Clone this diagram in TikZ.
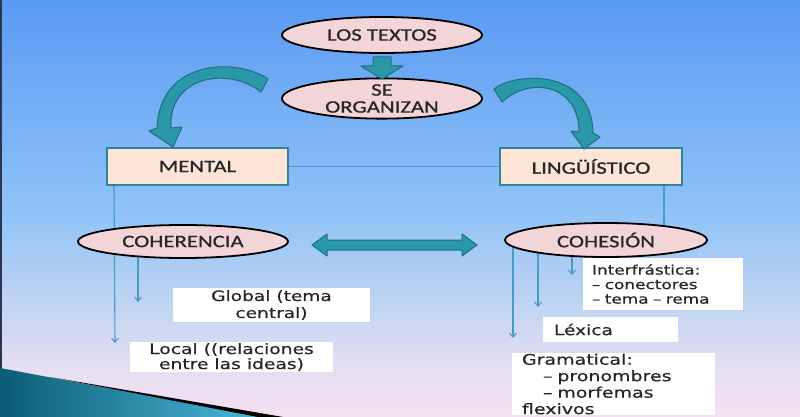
\documentclass[tikz,border=0pt]{standalone}
\usepackage{fontspec}
\usetikzlibrary{arrows.meta,shapes.geometric,calc}
\newfontfamily\crl[FakeStretch=1.3,FakeBold=0.9]{Carlito}
\newfontfamily\dvs[FakeStretch=1.3,FakeBold=0.5]{DejaVu Sans}
\definecolor{bgtop}{HTML}{5A9AF3}
\definecolor{bgmid}{HTML}{8EC2F7}
\definecolor{bglow}{HTML}{C4D6F1}
\definecolor{bglav}{HTML}{E6DEF2}
\definecolor{bgbot}{HTML}{F3E1F0}
\definecolor{edgec}{HTML}{2A3550}
\definecolor{wedgeL}{HTML}{0B5C76}
\definecolor{wedgeR}{HTML}{4BB8D8}
\definecolor{ovalfill}{HTML}{F3D5D8}
\definecolor{boxfill}{HTML}{FCE4D6}
\definecolor{boxline}{HTML}{2E8597}
\definecolor{tealfill}{HTML}{2A98A8}
\definecolor{tealline}{HTML}{1D6F7C}
\definecolor{linec}{HTML}{4A9AC4}
\definecolor{txt}{HTML}{262626}
\pgfdeclarelayer{bg}
\pgfdeclarelayer{lines}
\pgfsetlayers{bg,lines,main}
\pgfdeclareverticalshading{bgshade}{100bp}{color(0bp)=(bgbot); color(25bp)=(bgbot); color(31bp)=(bglav); color(37.5bp)=(bglow); color(50bp)=(bgmid); color(75bp)=(bgtop); color(100bp)=(bgtop)}
\begin{document}
\begin{tikzpicture}[x=1pt,y=-1pt,
  oval/.style={ellipse, draw=black, line width=1.8pt, fill=ovalfill, inner sep=0pt,
    font=\crl\fontsize{17.5}{18}\selectfont, text=txt, align=center},
  pbox/.style={rectangle, draw=boxline, line width=2pt, fill=boxfill, inner sep=0pt,
    minimum height=37pt, font=\crl\fontsize{17.5}{18}\selectfont, text=txt},
  wbox/.style={rectangle, fill=white, inner sep=0pt, text=txt},
  wtext/.style={font=\dvs\fontsize{14.3}{17}\selectfont},
  conn/.style={draw=linec, line width=1.1pt},
  tip/.style={-{Straight Barb[length=4pt,width=7pt]}},
  block/.style={fill=tealfill, draw=tealline, line width=1pt, line join=round}]
\useasboundingbox (0,0) rectangle (800,417);
% background
\begin{pgfonlayer}{bg}
\shade[shading=bgshade] (0,0) rectangle (800,417);
\fill[edgec] (0,0) rectangle (1.6,417);
\shade[left color=wedgeL, right color=wedgeR] (0,368) -- (262,417) -- (0,417) -- cycle;
\fill[black] (50,377) -- (283,417) -- (258,417) -- cycle;
\end{pgfonlayer}
% nodes
\node[oval, minimum width=200pt, minimum height=36pt] (textos) at (382,35) {LOS TEXTOS};
\node[oval, minimum width=200pt, minimum height=37pt] (organizan) at (382,98.5) {SE\\[-1pt]ORGANIZAN};
\node[pbox, minimum width=181pt] (mental) at (197.5,166.5) {MENTAL};
\node[pbox, minimum width=182pt] (ling) at (591,166.5) {LINGÜÍSTICO};
\node[oval, minimum width=210pt, minimum height=33pt] (coherencia) at (183,241.5) {COHERENCIA};
\node[oval, minimum width=202pt, minimum height=34pt] (cohesion) at (606,240) {COHESIÓN};
\node[wbox, minimum width=197pt, minimum height=34pt, wtext, align=center] (global) at (271.5,305) {Global (tema\\central)};
\node[wbox, minimum width=203pt, minimum height=30pt, font=\dvs\fontsize{14.4}{15}\selectfont, align=center] (local) at (231.5,357) {Local ((relaciones\\entre las ideas)};
\node[wbox, minimum width=160pt, minimum height=52pt, inner xsep=9pt, text width=142pt, align=left,
  font=\dvs\fontsize{13}{14.5}\selectfont] (inter) at (663,284) {Interfrástica:\\– conectores\\– tema – rema};
\node[wbox, minimum width=135pt, minimum height=25pt, inner xsep=11pt, text width=113pt, align=left, wtext] (lexica) at (610.5,329.5) {Léxica};
\node[wbox, minimum width=203pt, minimum height=62pt, inner xsep=10pt, text width=183pt, align=left,
  font=\dvs\fontsize{14.6}{16.5}\selectfont] (gram) at (613.5,384) {Gramatical:\\\hspace*{21pt}– pronombres\\\hspace*{21pt}– morfemas\\flexivos};
% connector coordinates
\coordinate (mx) at ($(mental.south west)+(8,0)$);
\coordinate (localend) at (115,343);
\coordinate (gx) at (138,241.5);
\coordinate (globalend) at (138,302);
\coordinate (lx) at ($(ling.south east)+(-19,0)$);
\coordinate (c1) at (513,240);
\coordinate (c1end) at (513,338);
\coordinate (c2) at (538,240);
\coordinate (c2end) at (538,307);
\coordinate (c3) at (572,240);
\coordinate (c3end) at (572,275);
\begin{pgfonlayer}{lines}
\draw[conn] (mental.east) -- (ling.west);
\draw[conn, tip] (mx) -- (localend);
\draw[conn, tip] (gx) -- (globalend);
\draw[conn] (lx) -- (lx |- cohesion.center);
\draw[conn, tip] (c1) -- (c1end);
\draw[conn, tip] (c2) -- (c2end);
\draw[conn, tip] (c3) -- (c3end);
\end{pgfonlayer}
% block arrow LOS TEXTOS -> SE ORGANIZAN
\draw[block] (373,57) -- (391,57) -- (391,66) -- (403,66) -- (382,79) -- (361,66) -- (373,66) -- cycle;
% double arrow COHERENCIA <-> COHESION
\draw[block] (312,245) -- (327,234) -- (327,240) -- (462,240) -- (462,234) -- (477,245) -- (462,256) -- (462,250) -- (327,250) -- (327,256) -- cycle;
% curved arrow to MENTAL
\draw[block] (268,79) .. controls (238,58) and (160,58) .. (157,128) -- (149,131) -- (173,147) -- (182,127) -- (171,128) .. controls (168,76) and (228,66) .. (261,92) -- cycle;
% curved arrow to LINGUISTICO
\draw[block] (494,89) .. controls (515,72) and (592,68) .. (593,133) -- (600,137) -- (584,149) -- (571,131) -- (579,132) .. controls (579,84) and (530,76) .. (502,102) -- cycle;
\end{tikzpicture}
\end{document}
